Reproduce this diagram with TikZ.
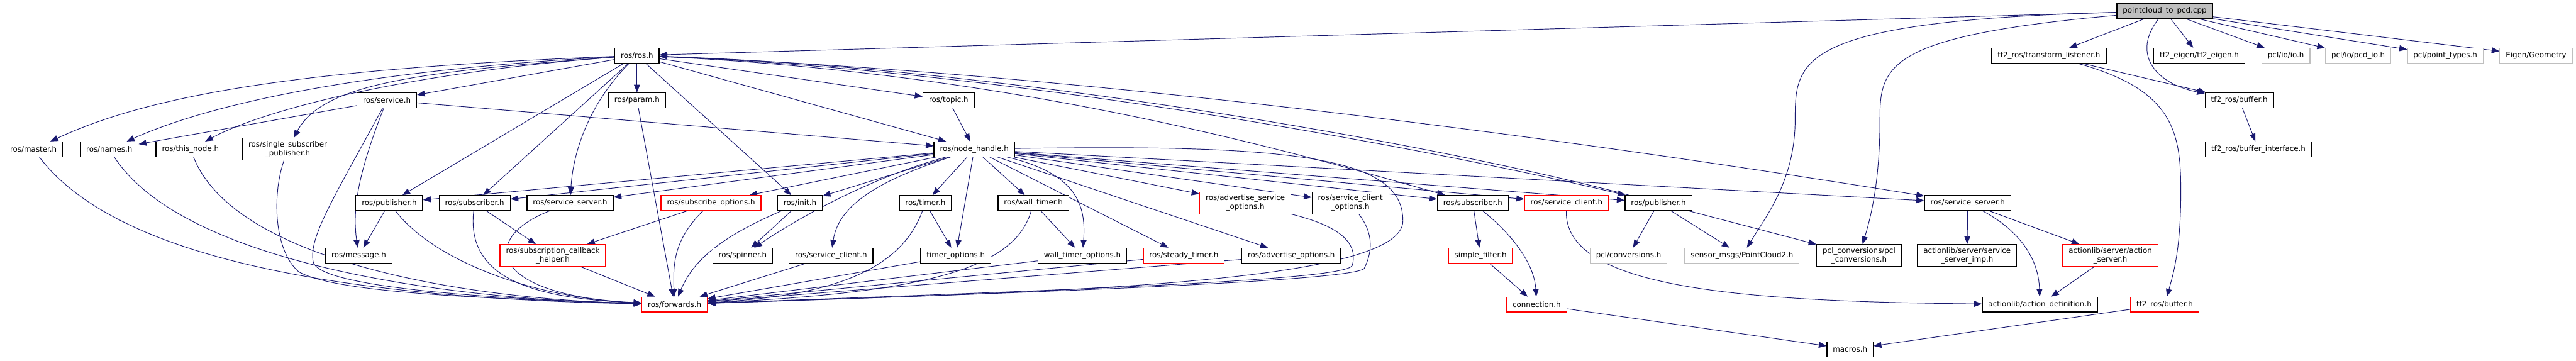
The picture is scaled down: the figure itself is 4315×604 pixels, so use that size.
\documentclass[tikz,border=0pt]{standalone}
\usepackage{fontspec}
\setmainfont{DejaVu Sans}
\usetikzlibrary{arrows.meta}
\definecolor{edgeblue}{HTML}{191970}
\definecolor{boxgray}{HTML}{BFBFBF}
\pgfdeclarelayer{edgelayer}
\pgfsetlayers{edgelayer,main}
\tikzset{
  hdr/.style={draw=black, line width=1.3pt, fill=white, inner xsep=10pt, inner ysep=5pt,
    minimum height=25pt, align=center, font=\fontsize{12.5pt}{14.5pt}\selectfont},
  hdrred/.style={hdr, draw=red},
  hdrgray/.style={hdr, draw=boxgray},
  hdrroot/.style={hdr, fill=boxgray},
  inc/.style={-{Triangle[length=13pt,width=10pt]}, draw=edgeblue, line width=1pt}
}
\begin{document}
\begin{tikzpicture}[x=1pt,y=1pt]
    \useasboundingbox (0,0) rectangle (4315,-604);
    % top row
    \node[hdrroot] (cpp) at (3626,-18.5) {pointcloud\_to\_pcd.cpp};
    \node[hdr] (ros) at (1067,-93) {ros/ros.h};
    \node[hdr] (tfl) at (3432,-93) {tf2\_ros/transform\_listener.h};
    \node[hdr] (tfe) at (3684,-93) {tf2\_eigen/tf2\_eigen.h};
    \node[hdrgray] (io) at (3829,-93) {pcl/io/io.h};
    \node[hdrgray] (pcdio) at (3950,-93) {pcl/io/pcd\_io.h};
    \node[hdrgray] (ptypes) at (4096,-93) {pcl/point\_types.h};
    \node[hdrgray] (geom) at (4248,-93) {Eigen/Geometry};
    \node[hdr] (srv) at (648,-168) {ros/service.h};
    \node[hdr] (param) at (1067,-168) {ros/param.h};
    \node[hdr] (topic) at (1589,-168) {ros/topic.h};
    \node[hdr] (buf) at (3751,-168) {tf2\_ros/buffer.h};
    \node[hdr] (master) at (56,-250) {ros/master.h};
    \node[hdr] (names) at (183,-250) {ros/names.h};
    \node[hdr] (thisnode) at (319,-250) {ros/this\_node.h};
    \node[hdr] (ssp) at (482,-250) {ros/single\_subscriber\\\_publisher.h};
    \node[hdr] (nh) at (1632,-250) {ros/node\_handle.h};
    \node[hdr] (bufif) at (3783,-250) {tf2\_ros/buffer\_interface.h};
    % middle row
    \node[hdr] (pubL) at (652,-340) {ros/publisher.h};
    \node[hdr] (subL) at (795,-340) {ros/subscriber.h};
    \node[hdr] (ssL) at (955,-340) {ros/service\_server.h};
    \node[hdrred] (subopt) at (1191,-340) {ros/subscribe\_options.h};
    \node[hdr] (init) at (1340,-340) {ros/init.h};
    \node[hdr] (timer) at (1550,-340) {ros/timer.h};
    \node[hdr] (wtimer) at (1731,-340) {ros/wall\_timer.h};
    \node[hdrred] (advsrvopt) at (2086,-340) {ros/advertise\_service\\\_options.h};
    \node[hdr] (scopt) at (2262,-340) {ros/service\_client\\\_options.h};
    \node[hdr] (subR) at (2467,-340) {ros/subscriber.h};
    \node[hdrred] (scR) at (2624,-340) {ros/service\_client.h};
    \node[hdr] (pubR) at (2778,-340) {ros/publisher.h};
    \node[hdr] (ssR) at (3296,-340) {ros/service\_server.h};
    \node[hdr] (msg) at (601,-428) {ros/message.h};
    \node[hdrred] (sch) at (926,-428) {ros/subscription\_callback\\\_helper.h};
    \node[hdr] (spin) at (1244,-428) {ros/spinner.h};
    \node[hdr] (scL) at (1392,-428) {ros/service\_client.h};
    \node[hdr] (topt) at (1601,-428) {timer\_options.h};
    \node[hdr] (wtopt) at (1813,-428) {wall\_timer\_options.h};
    \node[hdrred] (stimer) at (1983,-428) {ros/steady\_timer.h};
    \node[hdr] (advopt) at (2163,-428) {ros/advertise\_options.h};
    \node[hdrred] (sfilt) at (2480,-428) {simple\_filter.h};
    \node[hdrgray] (pclconv) at (2728,-428) {pcl/conversions.h};
    \node[hdrgray] (pc2) at (2918,-428) {sensor\_msgs/PointCloud2.h};
    \node[hdr] (pclrosconv) at (3114,-428) {pcl\_conversions/pcl\\\_conversions.h};
    \node[hdr] (ssimp) at (3295,-428) {actionlib/server/service\\\_server\_imp.h};
    \node[hdrred] (asrv) at (3535,-428) {actionlib/server/action\\\_server.h};
    % bottom rows
    \node[hdrred] (fwd) at (1130,-510) {ros/forwards.h};
    \node[hdrred] (conn) at (2574,-510) {connection.h};
    \node[hdr] (adef) at (3417,-510) {actionlib/action\_definition.h};
    \node[hdrred] (bufR) at (3626,-510) {tf2\_ros/buffer.h};
    \node[hdr] (macros) at (3099,-585) {macros.h};

    \begin{pgfonlayer}{edgelayer}
    % pointcloud_to_pcd.cpp
    \draw[inc] (cpp)--(ros); \draw[inc] (cpp)--(tfl); \draw[inc] (cpp)--(tfe);
    \draw[inc] (cpp)--(io); \draw[inc] (cpp)--(pcdio); \draw[inc] (cpp)--(ptypes); \draw[inc] (cpp)--(geom);
    \draw[inc] (cpp) .. controls (3570,-90) and (3610,-140) .. (buf);
    \draw[inc] (cpp) .. controls (3010,-35) and (3007,-100) .. (3007,-200) .. controls (3007,-300) and (2960,-360) .. (pc2);
    \draw[inc] (cpp) .. controls (3160,-60) and (3149,-110) .. (3149,-200) .. controls (3149,-300) and (3135,-360) .. (pclrosconv);
    \draw[inc] (tfl)--(buf); \draw[inc] (buf)--(bufif);
    \draw[inc] (tfl) .. controls (3640,-150) and (3653,-220) .. (3653,-320) .. controls (3653,-420) and (3640,-460) .. (bufR);

    % ros/ros.h
    \draw[inc] (ros) .. controls (500,-115) and (250,-160) .. (master);
    \draw[inc] (ros) .. controls (600,-118) and (350,-175) .. (names);
    \draw[inc] (ros) .. controls (700,-120) and (450,-180) .. (thisnode);
    \draw[inc] (ros) .. controls (700,-120) and (540,-140) .. (ssp);
    \draw[inc] (ros)--(srv); \draw[inc] (ros)--(param); \draw[inc] (ros)--(topic); \draw[inc] (ros)--(nh);
    \draw[inc] (ros)--(pubL); \draw[inc] (ros)--(subL); \draw[inc] (ros)--(init);
    \draw[inc] (ros) .. controls (990,-170) and (960,-250) .. (ssL);
    \draw[inc] (ros) .. controls (1700,-122) and (2150,-250) .. (subR);
    \draw[inc] (ros) .. controls (1700,-118) and (2400,-250) .. (pubR);
    \draw[inc] (pubR) .. controls (2420,-245) and (1700,-114) .. (ros);
    \draw[inc] (ros) .. controls (1900,-125) and (2800,-260) .. (ssR);

    % ros/service.h, ros/topic.h
    \draw[inc] (srv)--(names); \draw[inc] (srv)--(nh);
    \draw[inc] (srv) .. controls (600,-290) and (590,-350) .. (msg);
    \draw[inc] (topic)--(nh);

    % ros/node_handle.h
    \draw[inc] (nh)--(pubL); \draw[inc] (nh)--(subL); \draw[inc] (nh)--(ssL);
    \draw[inc] (nh)--(subopt); \draw[inc] (nh)--(init);
    \draw[inc] (nh) .. controls (1450,-300) and (1330,-370) .. (spin);
    \draw[inc] (nh) .. controls (1480,-300) and (1405,-340) .. (scL);
    \draw[inc] (nh)--(timer); \draw[inc] (nh)--(topt); \draw[inc] (nh)--(wtimer);
    \draw[inc] (nh) .. controls (1800,-290) and (1820,-340) .. (wtopt);
    \draw[inc] (nh)--(stimer); \draw[inc] (nh)--(advopt); \draw[inc] (nh)--(advsrvopt); \draw[inc] (nh)--(scopt);
    \draw[inc] (nh)--(subR); \draw[inc] (nh)--(scR); \draw[inc] (nh)--(pubR); \draw[inc] (nh)--(ssR);
    \draw[inc] (nh) .. controls (2200,-240) and (2350,-270) .. (2350,-370) .. controls (2350,-480) and (1700,-490) .. (fwd);

    % into ros/forwards.h
    \draw[inc] (master) .. controls (200,-440) and (600,-500) .. (fwd);
    \draw[inc] (names) .. controls (300,-430) and (700,-500) .. (fwd);
    \draw[inc] (thisnode) .. controls (390,-430) and (750,-500) .. (fwd);
    \draw[inc] (ssp) .. controls (455,-330) and (460,-420) .. (500,-455) .. controls (560,-490) and (800,-500) .. (fwd);
    \draw[inc] (srv) .. controls (560,-330) and (515,-400) .. (525,-440) .. controls (540,-480) and (800,-500) .. (fwd);
    \draw[inc] (pubL) .. controls (730,-440) and (900,-500) .. (fwd);
    \draw[inc] (subL) .. controls (780,-470) and (900,-500) .. (fwd);
    \draw[inc] (ssL) .. controls (800,-400) and (820,-495) .. (fwd);
    \draw[inc] (sch)--(fwd); \draw[inc] (param)--(fwd); \draw[inc] (scL)--(fwd);
    \draw[inc] (subopt) .. controls (1130,-400) and (1127,-440) .. (fwd);
    \draw[inc] (init) .. controls (1200,-400) and (1160,-440) .. (fwd);
    \draw[inc] (timer) .. controls (1510,-450) and (1400,-495) .. (fwd);
    \draw[inc] (wtimer) .. controls (1700,-450) and (1550,-490) .. (fwd);
    \draw[inc] (topt)--(fwd); \draw[inc] (wtopt)--(fwd); \draw[inc] (stimer)--(fwd); \draw[inc] (advopt)--(fwd);
    \draw[inc] (advsrvopt) .. controls (2250,-380) and (2275,-410) .. (2265,-445) .. controls (2250,-470) and (1800,-485) .. (fwd);
    \draw[inc] (scopt) .. controls (2300,-390) and (2300,-420) .. (2285,-450) .. controls (2260,-470) and (1800,-488) .. (fwd);

    % the rest
    \draw[inc] (pubL)--(msg); \draw[inc] (subL)--(sch); \draw[inc] (subopt)--(sch);
    \draw[inc] (init)--(spin); \draw[inc] (timer)--(topt); \draw[inc] (wtimer)--(wtopt);
    \draw[inc] (subR)--(sfilt); \draw[inc] (sfilt)--(conn);
    \draw[inc] (subR) .. controls (2530,-390) and (2570,-440) .. (conn);
    \draw[inc] (conn)--(macros); \draw[inc] (bufR)--(macros);
    \draw[inc] (scR) .. controls (2620,-480) and (2900,-505) .. (adef);
    \draw[inc] (pubR)--(pclconv); \draw[inc] (pubR)--(pc2); \draw[inc] (pubR)--(pclrosconv);
    \draw[inc] (ssR)--(ssimp); \draw[inc] (ssR)--(asrv); \draw[inc] (asrv)--(adef);
    \draw[inc] (ssR) .. controls (3390,-390) and (3415,-440) .. (adef);
    \end{pgfonlayer}
\end{tikzpicture}
\end{document}
